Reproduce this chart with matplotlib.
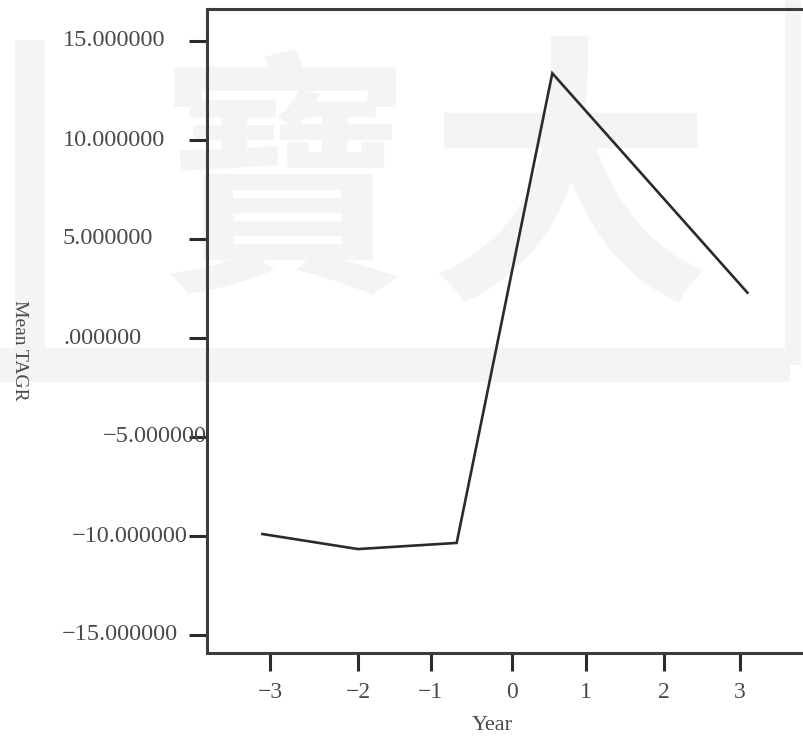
import numpy as np
import matplotlib.pyplot as plt
from matplotlib.patches import Rectangle
from matplotlib import transforms

# mean TAGR by event year
year_pos = [-3.25, -2.0, -0.71, 0.54, 3.09]
mean_tagr = [-9.90, -10.66, -10.35, 13.37, 2.29]

xtick_pos = [-3.15, -2.0, -1.05, 0.01, 0.98, 2.0, 2.99]
xtick_lab = ['\u22123', '\u22122', '\u22121', '0', '1', '2', '3']
ytick_val = [15, 10, 5, 0, -5, -10, -15]
ytick_lab = ['15.000000', '10.000000', '5.000000', '.000000',
             '\u22125.000000', '\u221210.000000', '\u221215.000000']
ytick_left = [63, 63, 63, 63, 103, 72, 62]   # label start, px from left

W, H = 804, 741
plt.rcParams['font.family'] = ['Liberation Serif', 'DejaVu Serif']
fig = plt.figure(figsize=(W / 100, H / 100), dpi=100)
fig.patch.set_facecolor('white')

# faint background seal
wm = '#f4f4f4'
fig.text(285 / W, 1 - 195 / H, '寶', fontsize=185, color=wm, ha='center', va='center',
         family=['Noto Sans CJK TC'], fontweight='bold', zorder=-5)
fig.text(570 / W, 1 - 195 / H, '大', fontsize=205, color=wm, ha='center', va='center',
         family=['Noto Sans CJK TC'], fontweight='bold', zorder=-5)
for x0, y0, w, h in [(15, 40, 30, 340), (0, 348, 790, 34), (785, 0, 16, 365)]:
    fig.patches.append(Rectangle((x0 / W, 1 - (y0 + h) / H), w / W, h / H,
                                 transform=fig.transFigure, color=wm, lw=0, zorder=-6))

left, top, bottom, right = 207, 9, 653, 830
ax = fig.add_axes([left / W, 1 - bottom / H, (right - left) / W, (bottom - top) / H])
ax.patch.set_alpha(0)

ax.plot(year_pos, mean_tagr, color='#2b2b2b', lw=1.9, solid_joinstyle='miter')

ax.set_xlim((left - 511) / 76.5, (right - 511) / 76.5)
ax.set_ylim(-(bottom - 338) / 19.8, (338 - top) / 19.8)

for s in ax.spines.values():
    s.set_color('#3c3c3c')
    s.set_linewidth(2.2)

ax.set_xticks(xtick_pos)
ax.set_xticklabels(xtick_lab, fontsize=17, color='#4a4a4a')
ax.set_yticks(ytick_val)
ax.set_yticklabels([])
ax.tick_params(direction='out', length=13, width=2.2, color='#2b2b2b')
ax.tick_params(axis='x', pad=8)

trans = transforms.blended_transform_factory(fig.transFigure, ax.transData)
for v, lab, xl in zip(ytick_val, ytick_lab, ytick_left):
    ax.text(xl / W, v, lab, transform=trans, ha='left', va='center',
            fontsize=17.5, color='#4a4a4a', clip_on=False)

fig.text(19 / W, 1 - 350 / H, 'Mean TAGR', rotation=270, ha='center', va='center',
         fontsize=14, color='#4a4a4a')
fig.text(492 / W, 1 - 725 / H, 'Year', ha='center', va='center',
         fontsize=16, color='#4a4a4a')

fig.savefig('out.png', dpi=100)
